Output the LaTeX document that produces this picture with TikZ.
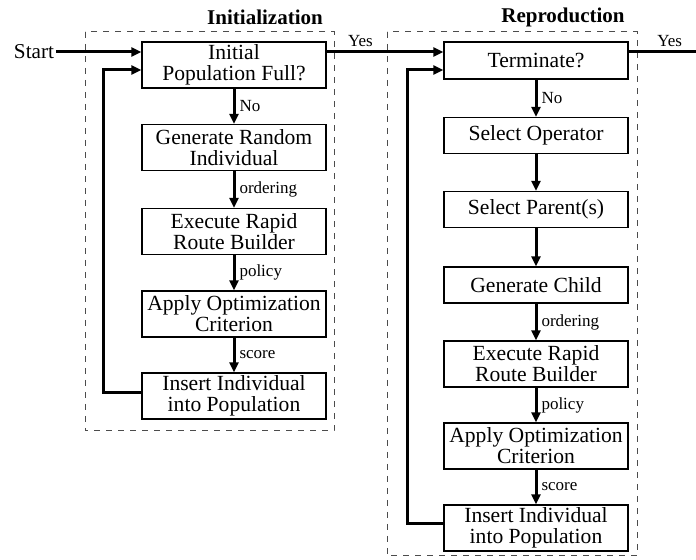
\documentclass[tikz,border=0pt]{standalone}
\usepackage{fontspec}
\setmainfont{Liberation Serif}
\usetikzlibrary{arrows.meta}
\usetikzlibrary{positioning}
\tikzset{
  stepbox/.style={draw, line width=0.6pt, inner sep=0pt, align=center,
    minimum width=92pt, minimum height=23pt,
    font=\fontsize{10.8}{10.5}\selectfont},
  flatbox/.style={stepbox, minimum height=18pt},
  flow/.style={line width=1.5pt, -{Triangle[length=5pt,width=4.5pt]}},
  flowlabel/.style={font=\fontsize{8.5}{9}\selectfont, inner sep=2pt},
  stagebox/.style={draw=black!70, dashed, line width=0.5pt},
  stagetitle/.style={font=\bfseries\fontsize{10.5}{12}\selectfont}
}

\begin{document}
\begin{tikzpicture}[x=0.5pt, y=-0.5pt]
  \useasboundingbox (0,0) rectangle (696,560);

  % stages
  \draw [stagebox] (85,32) rectangle (334,431);
  \draw [stagebox] (387,32) rectangle (637,556);
  \node [stagetitle] (inittitle) at (265,17) {Initialization};
  \node [stagetitle] (reprotitle) at (563,17) {Reproduction};

  % initialization column
  \node [font=\fontsize{10.6}{12}\selectfont, inner sep=1pt] (start) at (34,52) {Start};
  \node [stepbox] (init) at (234,65) {Initial\\Population Full?};
  \node [stepbox] (genrand) at (234,147.5) {Generate Random\\Individual};
  \node [stepbox] (exec1) at (234,231.5) {Execute Rapid\\Route Builder};
  \node [stepbox] (apply1) at (234,314) {Apply Optimization\\Criterion};
  \node [stepbox] (insert1) at (234,396) {Insert Individual\\into Population};

  % reproduction column
  \node [flatbox, minimum height=18.5pt] (term) at (536,60.5) {Terminate?};
  \node [flatbox] (selop) at (536,135.5) {Select Operator};
  \node [flatbox] (selpar) at (536,209.5) {Select Parent(s)};
  \node [flatbox] (genchild) at (536,285) {Generate Child};
  \node [stepbox] (exec2) at (536,364) {Execute Rapid\\Route Builder};
  \node [stepbox] (apply2) at (536,446) {Apply Optimization\\Criterion};
  \node [stepbox] (insert2) at (536,528) {Insert Individual\\into Population};
  \coordinate (done) at (696,52);

  % entry and exits
  \draw [flow] (start.east) -- ([yshift=6.5pt]init.west);
  \draw [flow] ([yshift=6.5pt]init.east) -- ([yshift=4.25pt]term.west)
    node [flowlabel, pos=0.29, above] {Yes};
  \draw [line width=1.5pt] ([yshift=4.25pt]term.east) -- (done)
    node [flowlabel, pos=0.61, above] {Yes};

  % steps
  \draw [flow] (init) -- (genrand) node [flowlabel, midway, right] {No};
  \draw [flow] (genrand) -- (exec1) node [flowlabel, midway, right] {ordering};
  \draw [flow] (exec1) -- (apply1) node [flowlabel, midway, right] {policy};
  \draw [flow] (apply1) -- (insert1) node [flowlabel, midway, right] {score};

  \draw [flow] (term) -- (selop) node [flowlabel, midway, right] {No};
  \foreach \a/\b in {selop/selpar, selpar/genchild} \draw [flow] (\a) -- (\b);
  \draw [flow] (genchild) -- (exec2) node [flowlabel, midway, right] {ordering};
  \draw [flow] (exec2) -- (apply2) node [flowlabel, midway, right] {policy};
  \draw [flow] (apply2) -- (insert2) node [flowlabel, midway, right] {score};

  % loops back:
  \draw [flow] ([yshift=1.5pt]insert1.west) -- ++(-19pt,0) |- ([yshift=-2.5pt]init.west);
  \draw [flow] ([yshift=2pt]insert2.west) -- ++(-18pt,0) |- ([yshift=-4.75pt]term.west);
\end{tikzpicture}
\end{document}
